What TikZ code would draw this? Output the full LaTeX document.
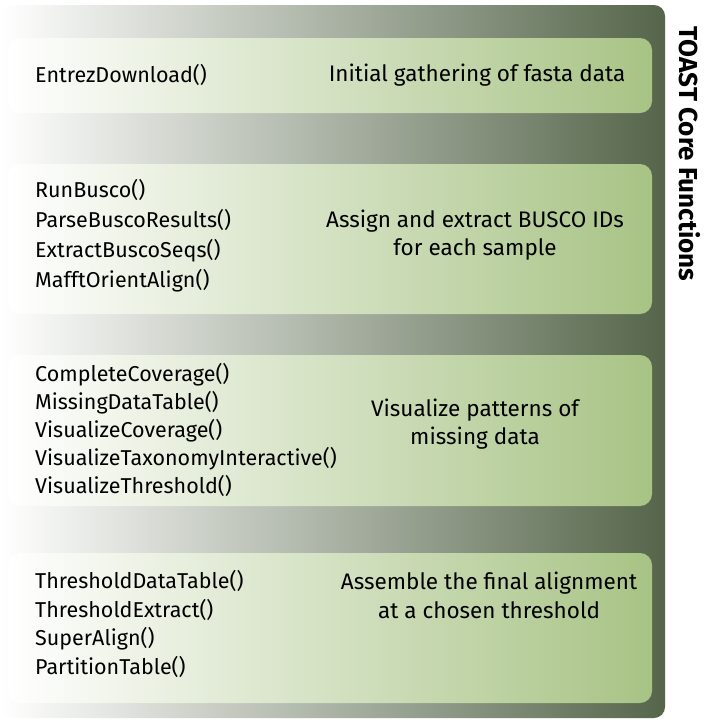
\documentclass[tikz,border=0pt]{standalone}
\usepackage{fontspec}
\setmainfont{Fira Sans}
\begin{document}
\begin{tikzpicture}[x=1pt,y=-1pt,
  outerbox/.style={left color=white, middle color=olivemid, right color=olivedark, rounded corners=11pt},
  innerbox/.style={left color=white, middle color=greenmid, right color=greenright, rounded corners=12pt},
  fn/.style={font=\fontsize{21.5}{28}\selectfont, align=left, anchor=west, inner sep=0pt, text=black},
  desc/.style={font=\fontsize{22.5}{28}\selectfont, align=center, inner sep=0pt, text=black}]
\definecolor{olivedark}{HTML}{55654A}
\definecolor{olivemid}{HTML}{9DA58B}
\definecolor{greenright}{HTML}{A8C385}
\definecolor{greenmid}{HTML}{D6E2C0}
\useasboundingbox (0,0) rectangle (722,728);
\shade[outerbox] (0,5) rectangle (665,718);
\shade[innerbox] (8,38) rectangle (652,113);
\shade[innerbox] (8,164) rectangle (652,314);
\shade[innerbox] (8,355) rectangle (652,506);
\shade[innerbox] (8,553) rectangle (652,703);
\node[fn] (f1) at (35,75) {EntrezDownload()};
\node[desc] (d1) at (477,75) {Initial gathering of fasta data};
\node[fn, font=\fontsize{21.5}{30}\selectfont] (f2) at (35,236) {RunBusco()\\ParseBuscoResults()\\ExtractBuscoSeqs()\\MafftOrientAlign()};
\node[desc, font=\fontsize{22.5}{28.5}\selectfont] (d2) at (475,235) {Assign and extract BUSCO IDs\\for each sample};
\node[fn, font=\fontsize{21.5}{28}\selectfont] (f3) at (35,430) {CompleteCoverage()\\MissingDataTable()\\VisualizeCoverage()\\VisualizeTaxonomyInteractive()\\VisualizeThreshold()};
\node[desc] (d3) at (475,424) {Visualize patterns of\\missing data};
\node[fn, font=\fontsize{21.5}{28.5}\selectfont] (f4) at (35,624) {ThresholdDataTable()\\ThresholdExtract()\\SuperAlign()\\PartitionTable()};
\node[desc, font=\fontsize{22.5}{29}\selectfont] (d4) at (489,595) {Assemble the final alignment\\at a chosen threshold};
\node[font=\bfseries\fontsize{26}{28}\selectfont, rotate=-90, inner sep=0pt] (title) at (690,154) {TOAST Core Functions};
\end{tikzpicture}
\end{document}
